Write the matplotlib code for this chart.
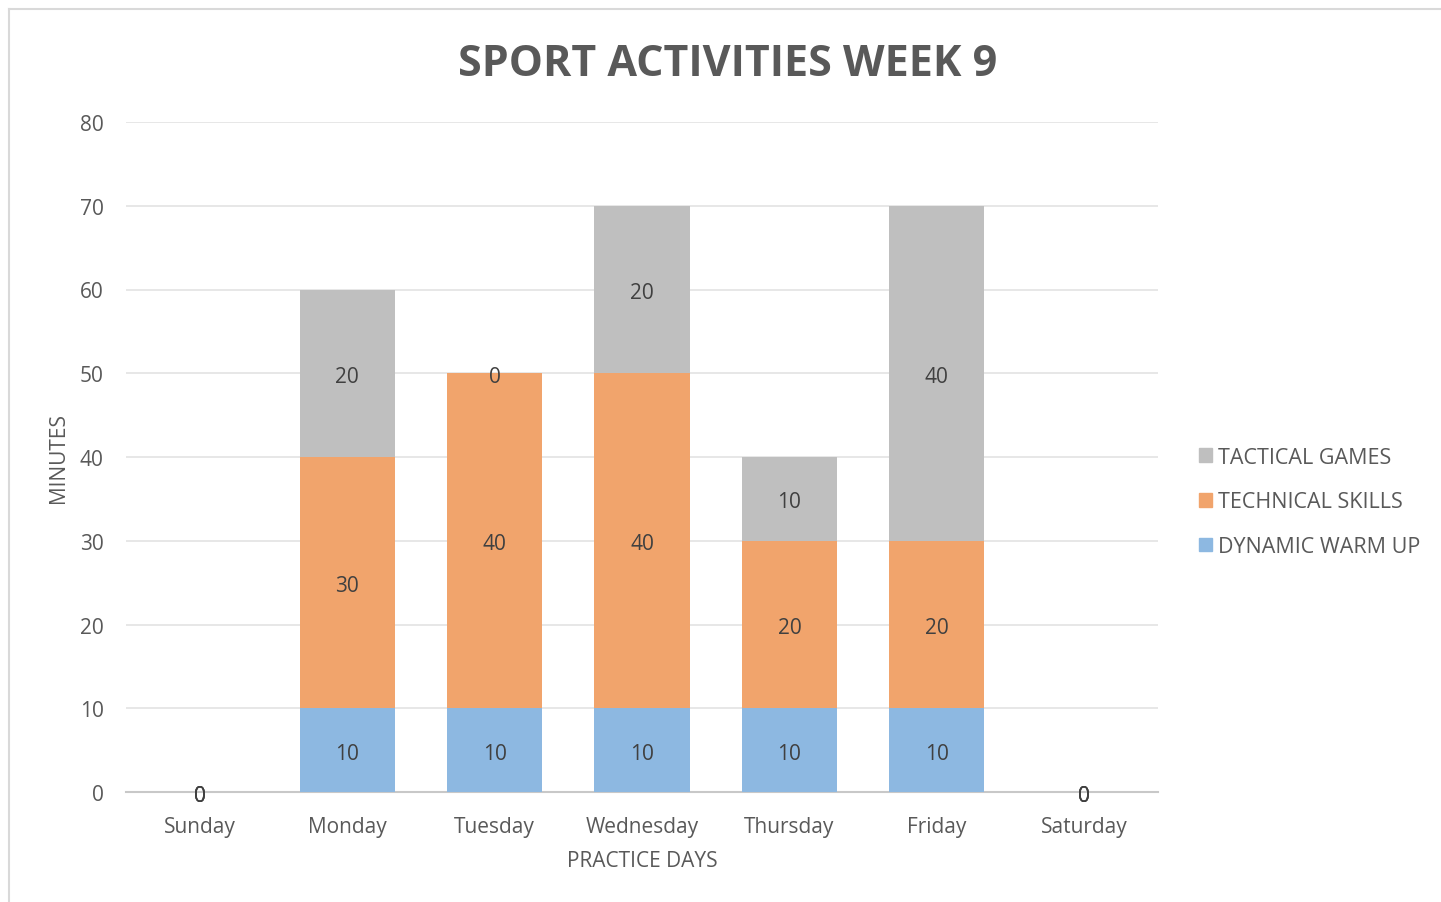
import matplotlib
matplotlib.use("Agg")
import matplotlib.pyplot as plt
from matplotlib.lines import Line2D
from matplotlib.patches import Patch
from matplotlib.transforms import offset_copy

days = ["Sunday", "Monday", "Tuesday", "Wednesday", "Thursday", "Friday", "Saturday"]
warm_up = [0, 10, 10, 10, 10, 10, 0]
technical = [0, 30, 40, 40, 20, 20, 0]
tactical = [0, 20, 0, 20, 10, 40, 0]
series_names = ["DYNAMIC WARM UP", "TECHNICAL SKILLS", "TACTICAL GAMES"]
yticks = [0, 10, 20, 30, 40, 50, 60, 70, 80]

colors = ["#8DB8E1", "#F1A46C", "#BFBFBF"]
FONT = "Open Sans"
TXT = "#595959"
FS = 15

fig = plt.figure(figsize=(14.41, 9.03), dpi=100)
ax = fig.add_axes([126/1441, 1 - 793/903, (1158-126)/1441, (793-123)/903])
lbl_tr = offset_copy(ax.transData, fig=fig, x=0, y=-3, units="dots")

x = list(range(len(days)))
width = 0.645
bottom = [0]*len(days)
for vals, col in zip([warm_up, technical, tactical], colors):
    ax.bar(x, vals, width, bottom=bottom, color=col, zorder=2)
    for xi, v, b in zip(x, vals, bottom):
        ax.text(xi, b + v/2, f"{v}", ha="center", va="center", fontsize=FS,
                color="#404040", family=FONT, zorder=3, transform=lbl_tr)
    bottom = [b + v for b, v in zip(bottom, vals)]

ax.set_xlim(-0.5, 6.5)
ax.set_ylim(0, 80)
ax.set_yticks(yticks)
ax.set_xticks(x)
ax.set_xticklabels(days)
ax.yaxis.grid(True, color="#E3E3E3", linewidth=1.2, zorder=0)
ax.set_axisbelow(True)
for s in ["top", "right", "left"]:
    ax.spines[s].set_visible(False)
ax.spines["bottom"].set_color("#C8C8C8")
ax.spines["bottom"].set_linewidth(1.5)
ax.spines["bottom"].set_zorder(1)
ax.tick_params(axis="both", length=0, labelsize=FS, labelcolor=TXT)
ax.tick_params(axis="y", pad=16)
ax.tick_params(axis="x", pad=17.5)
for lbl in ax.get_xticklabels() + ax.get_yticklabels():
    lbl.set_family(FONT)

fig.text(642/1441, 1 - 862/903, "PRACTICE DAYS", ha="center", va="center",
         fontsize=FS, color=TXT, family=FONT)
fig.text(58/1441, 1 - 458/903, "MINUTES", ha="center", va="center", rotation=90,
         fontsize=FS, color=TXT, family=FONT)
fig.text(728/1441, 1 - 64/903, "SPORT ACTIVITIES WEEK 9", ha="center", va="center",
         fontsize=31, fontweight="bold", color=TXT, family=FONT)

handles = [Patch(color=colors[2]), Patch(color=colors[1]), Patch(color=colors[0])]
labels = [series_names[2], series_names[1], series_names[0]]
leg = fig.legend(handles, labels, loc="center left",
                 bbox_to_anchor=(1199/1441, 1 - 503/903), frameon=False,
                 prop={"family": FONT, "size": 15.5}, handlelength=0.6, handleheight=0.6,
                 handletextpad=0.3, labelspacing=1.1, borderpad=0, borderaxespad=0)
for t in leg.get_texts():
    t.set_color(TXT)

# chart area border (left and top visible)
fig.add_artist(Line2D([9/1441, 9/1441], [0, 1 - 10/903], transform=fig.transFigure,
                      color="#D9D9D9", linewidth=1.5))
fig.add_artist(Line2D([9/1441, 1], [1 - 10/903, 1 - 10/903], transform=fig.transFigure,
                      color="#D9D9D9", linewidth=1.5))

fig.savefig("out.png", dpi=100, facecolor="white")
